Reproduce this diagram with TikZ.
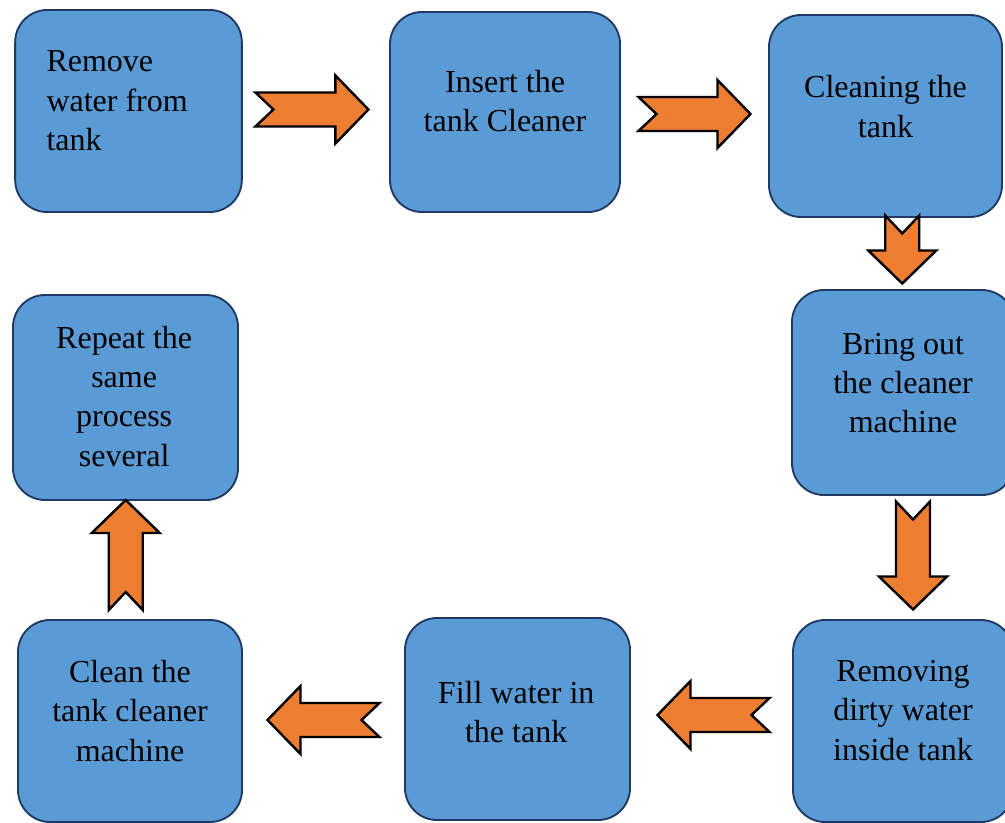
\documentclass[tikz,border=0pt]{standalone}
\usepackage{fontspec}
\setmainfont{Liberation Serif}
\usetikzlibrary{calc}

\definecolor{boxblue}{RGB}{91,155,213}
\definecolor{boxedge}{RGB}{32,56,100}
\definecolor{arroworange}{RGB}{237,125,49}

\tikzset{
  stepbox/.style={draw=boxedge, line width=1.4pt, fill=boxblue, rounded corners=24pt,
    minimum width=170pt, minimum height=151.5pt, inner sep=0pt},
  steptext/.style={inner sep=0pt, align=center, font=\fontsize{24}{29.5}\selectfont},
  pics/flowarrow/.style={code={
    \draw[fill=arroworange, line width=1.8pt, line join=miter]
      (-0.5*#1,-17) -- (0.5*#1-33,-17) -- (0.5*#1-33,-34) -- (0.5*#1,0)
      -- (0.5*#1-33,34) -- (0.5*#1-33,17) -- (-0.5*#1,17) -- (-0.5*#1+18,0) -- cycle;
  }}
}

\begin{document}
\begin{tikzpicture}[x=0.75pt,y=-0.75pt]
\useasboundingbox (0,0) rectangle (1005,822);
\clip (0,0) rectangle (1005,822);

% process boxes
\node[stepbox] (b1) at (128.5,111) {};
\node[stepbox, minimum width=172.5pt, minimum height=150pt] (b2) at (505,112) {};
\node[stepbox, minimum width=174.75pt] (b3) at (885.5,116) {};
\node[stepbox, minimum width=166.5pt, minimum height=153.75pt] (b4) at (903,392.5) {};
\node[stepbox, minimum width=165pt] (b5) at (903,721) {};
\node[stepbox, minimum width=168.75pt] (b6) at (517.5,719) {};
\node[stepbox, minimum width=168pt] (b7) at (130,721) {};
\node[stepbox, minimum width=168.75pt, minimum height=153.75pt] (b8) at (125.5,397.5) {};

% texts
\node[steptext, align=left, anchor=west] (t1) at ([xshift=24pt,yshift=7.5pt]b1.west) {Remove\\water from\\tank};
\node[steptext] (t2) at ([yshift=8pt]b2.center) {Insert the\\tank Cleaner};
\node[steptext] (t3) at ([yshift=7pt]b3.center) {Cleaning the\\tank};
\node[steptext] (t4) at ([yshift=7pt]b4.center) {Bring out\\the cleaner\\machine};
\node[steptext] (t5) at ([yshift=8pt]b5.center) {Removing\\dirty water\\inside tank};
\node[steptext] (t6) at ([xshift=-1pt,yshift=5pt]b6.center) {Fill water in\\the tank};
\node[steptext] (t7) at ([yshift=7.5pt]b7.center) {Clean the\\tank cleaner\\machine};
\node[steptext] (t8) at ([xshift=-1pt,yshift=1pt]b8.center) {Repeat the\\same\\process\\several};

% block arrows between the boxes
\pic at ($(b1.east)!0.5!(b2.west)+(-4,-2)$) {flowarrow=113};
\pic at ($(b2.east)!0.5!(b3.west)$) {flowarrow=112};
\pic[rotate=-90] at ($(b3.south)!0.5!(b4.north)+(8,-4)$) {flowarrow=68};
\pic[rotate=-90] at ($(b4.south)!0.5!(b5.north)+(10,-2)$) {flowarrow=108};
\pic[rotate=180] at ($(b6.east)!0.5!(b5.west)+(2,-5)$) {flowarrow=112};
\pic[rotate=180] at ($(b7.east)!0.5!(b6.west)$) {flowarrow=112};
\pic[rotate=90] at ($(b7.north)!0.5!(b8.south)+(-2,-5)$) {flowarrow=110};

\end{tikzpicture}
\end{document}
